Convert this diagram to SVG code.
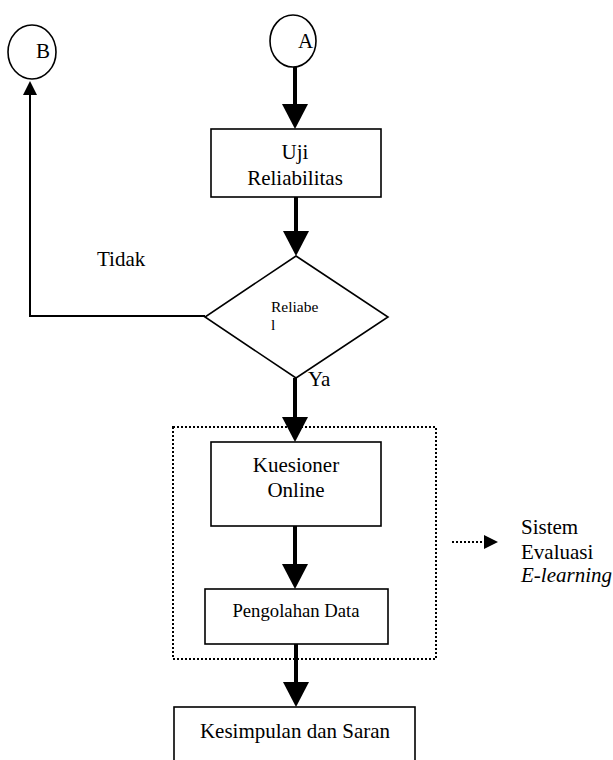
<svg xmlns="http://www.w3.org/2000/svg" width="613" height="760" viewBox="0 0 613 760">
<defs>
<style>
.shape{fill:#fff;stroke:#000;stroke-width:1.6}
.t{font-family:"Liberation Serif","Times New Roman",serif;font-size:21px;fill:#000}
.mid{text-anchor:middle}
.thick{fill:none;stroke:#000;stroke-width:4}
.thin{fill:none;stroke:#000;stroke-width:2}
.dot{fill:none;stroke:#000;stroke-width:2;stroke-dasharray:2 2}
</style>
<marker id="big" viewBox="0 0 25 26" refX="0" refY="13" markerWidth="25" markerHeight="26" markerUnits="userSpaceOnUse" orient="auto"><path d="M0,0 L25,13 L0,26 Z" fill="#000"/></marker>
<marker id="small" viewBox="0 0 14 14" refX="0" refY="7" markerWidth="14" markerHeight="14" markerUnits="userSpaceOnUse" orient="auto"><path d="M0,0 L14,7 L0,14 Z" fill="#000"/></marker>
</defs>
<rect width="613" height="760" fill="#fff"/>

<g id="connectors">
<line class="thick" x1="295" y1="67" x2="295" y2="104" marker-end="url(#big)"/>
<line class="thick" x1="296" y1="197" x2="296" y2="231" marker-end="url(#big)"/>
<line class="thick" x1="295" y1="378" x2="295" y2="417" marker-end="url(#big)"/>
<line class="thick" x1="295" y1="526" x2="295" y2="564" marker-end="url(#big)"/>
<line class="thick" x1="296" y1="644" x2="296" y2="682" marker-end="url(#big)"/>
<path class="thin" d="M205,316 H30 V95" marker-end="url(#small)"/>
<line class="dot" x1="452" y1="542" x2="484" y2="542" marker-end="url(#small)"/>
</g>

<g id="nodeB">
<ellipse class="shape" cx="32" cy="52" rx="24" ry="27"/>
<text class="t" x="36" y="58">B</text>
</g>

<g id="nodeA">
<ellipse class="shape" cx="293" cy="41" rx="23" ry="26"/>
<text class="t" x="298" y="48">A</text>
</g>

<g id="uji">
<rect class="shape" x="211" y="129" width="170" height="68"/>
<text class="t mid" x="295" y="159">Uji</text>
<text class="t mid" x="295" y="185">Reliabilitas</text>
</g>

<g id="reliabel">
<polygon class="shape" points="296,256 388,317 296,378 205,317"/>
<text class="t" x="271" y="312" style="font-size:15.5px">Reliabe</text>
<text class="t" x="271" y="330" style="font-size:15.5px">l</text>
</g>

<g id="labelTidak"><text class="t" x="97" y="266">Tidak</text></g>
<g id="labelYa"><text class="t" x="308" y="386">Ya</text></g>

<g id="group">
<rect class="dot" x="173" y="427" width="263" height="232"/>
</g>

<g id="kuesioner">
<rect class="shape" x="211" y="442" width="170" height="84"/>
<text class="t mid" x="296" y="472">Kuesioner</text>
<text class="t mid" x="296" y="497">Online</text>
</g>

<g id="pengolahan">
<rect class="shape" x="205" y="589" width="183" height="55"/>
<text class="t mid" x="296" y="617" style="font-size:18.7px">Pengolahan Data</text>
</g>

<g id="kesimpulan">
<rect class="shape" x="174" y="707" width="241" height="62"/>
<text class="t mid" x="295" y="738">Kesimpulan dan Saran</text>
</g>

<g id="sistem">
<text class="t" x="521" y="534">Sistem</text>
<text class="t" x="521" y="559">Evaluasi</text>
<text class="t" x="521" y="582" font-style="italic">E-learning</text>
</g>
</svg>
